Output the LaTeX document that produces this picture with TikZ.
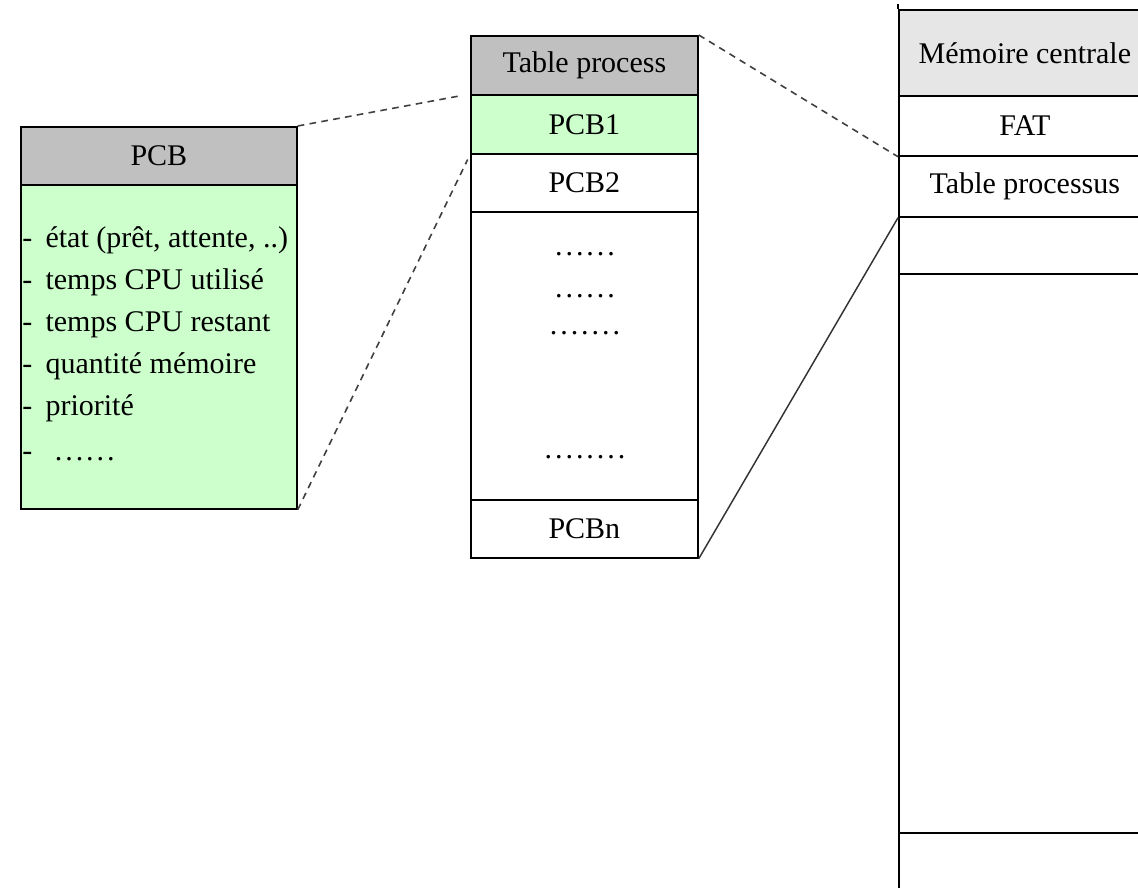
\documentclass[tikz,border=0pt]{standalone}
\usepackage{fontspec}
\setmainfont{Liberation Serif}
\definecolor{headgrey}{HTML}{C0C0C0}
\definecolor{memgrey}{HTML}{E6E6E6}
\definecolor{pcbgreen}{HTML}{CCFFCC}
% a row of widely spaced dots
\newcommand{\sparsedots}[1]{\foreach \k in {1,...,#1}{.\kern2.2pt}\kern-2.2pt}
\begin{document}
\begin{tikzpicture}[x=0.75pt,y=-0.75pt,
  every node/.style={font=\fontsize{22.5}{27}\selectfont},
  cell/.style 2 args={draw=black, line width=1.3pt, inner sep=0pt,
    minimum width=#1*0.75pt, minimum height=#2*0.75pt, anchor=north west},
  item/.style={anchor=base west, inner sep=0pt},
  dotrow/.style={inner sep=0pt},
  link/.style={draw=black!75, line width=1.2pt, dash pattern=on 5pt off 4pt},
  plainlink/.style={draw=black!80, line width=1.1pt}]
\useasboundingbox (0,0) rectangle (1138,888);
\clip (0,0) rectangle (1138,888);

% process control block
\node[cell={276}{58}, fill=headgrey] (pcbhead) at (20,126) {PCB};
\node[cell={276}{324}, fill=pcbgreen] (pcbbody) at (20,184) {};
\node[item] (i1) at (22,247) {\makebox[17.5pt][l]{-}état (prêt, attente, ..)};
\node[item] (i2) at (22,289) {\makebox[17.5pt][l]{-}temps CPU utilisé};
\node[item] (i3) at (22,331) {\makebox[17.5pt][l]{-}temps CPU restant};
\node[item] (i4) at (22,373) {\makebox[17.5pt][l]{-}quantité mémoire};
\node[item] (i5) at (22,415) {\makebox[17.5pt][l]{-}priorité};
\node[item] (i6) at (22,460) {\makebox[17.5pt][l]{-}\hspace{7pt}\sparsedots{6}};

% process table
\node[cell={227}{59}, fill=headgrey] (tphead) at (470,35) {Table process};
\node[cell={227}{59}, fill=pcbgreen] (pcb1) at (470,94) {PCB1};
\node[cell={227}{58}] (pcb2) at (470,153) {PCB2};
\node[cell={227}{288}] (tpdots) at (470,211) {};
\node[cell={227}{58}] (pcbn) at (470,499) {PCBn};
\node[dotrow] (d1) at (585,254) {\sparsedots{6}};
\node[dotrow] (d2) at (585,296) {\sparsedots{6}};
\node[dotrow] (d3) at (585,333) {\sparsedots{7}};
\node[dotrow] (d4) at (585,457) {\sparsedots{8}};

% main memory
\node[cell={252}{86}, fill=memgrey] (memhead) at (898,9) {Mémoire centrale};
\node[cell={252}{60}] (fat) at (898,95) {FAT};
\node[cell={252}{61}] (tproc) at (898,155) {\raisebox{4pt}{Table processus}};
\node[cell={252}{57}] (memfree) at (898,216) {};
\node[cell={252}{559}] (memrest) at (898,273) {};
\node[cell={252}{70}] (memlast) at (898,832) {};
\draw[line width=1.3pt] (memhead.north west) -- ++(0,-5);

% connectors
\draw[link, shorten >=6pt] (pcbhead.north east) -- (pcb1.north west);
\draw[link, shorten >=4pt] (pcbbody.south east) -- (pcb1.south west);
\draw[link] (tphead.north east) -- (fat.south west);
\draw[plainlink] (pcbn.south east) -- (tproc.south west);
\end{tikzpicture}
\end{document}
